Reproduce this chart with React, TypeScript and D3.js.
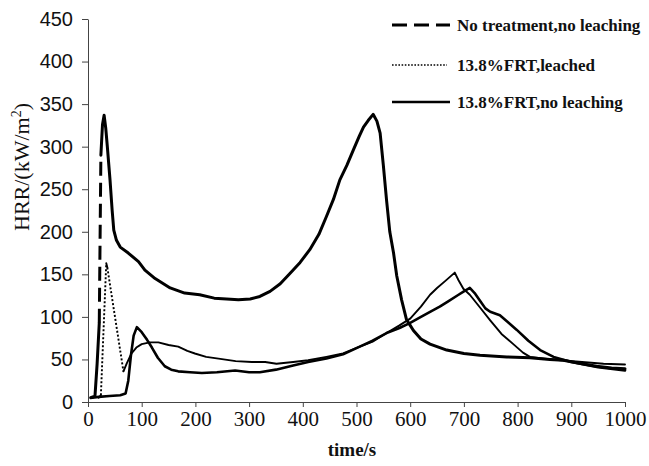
import * as d3 from "d3";
import { useEffect, useRef } from "react";

// time (s) / HRR (kW/m2)
const noTreatment = [
  [5, 5], [13, 7], [17, 45], [21, 93], [24, 290], [27, 326], [30, 337], [33, 322],
  [36, 300], [41, 261], [45, 225], [48, 202], [53, 190], [60, 182], [75, 175],
  [94, 165], [106, 155], [125, 145], [153, 134], [180, 128], [208, 126], [235, 122],
  [258, 121], [280, 120], [302, 121], [320, 124], [339, 130], [358, 139], [376, 151],
  [395, 164], [413, 179], [430, 197], [444, 218], [457, 238], [469, 261], [482, 278],
  [494, 296], [505, 312], [513, 323], [522, 331], [531, 338], [538, 330], [544, 316],
  [550, 278], [556, 237], [562, 200], [569, 175], [575, 148], [584, 120], [593, 97],
  [600, 90], [606, 84], [620, 74], [637, 68], [650, 65], [668, 61], [700, 57],
  [730, 55], [780, 53], [823, 52], [860, 50], [885, 49], [920, 45], [947, 42],
  [975, 40], [1000, 39],
];

const frtLeached = [
  [20, 5], [24, 8], [34, 163], [36, 158], [66, 36], [72, 45], [81, 57], [90, 64],
  [100, 68], [115, 70], [131, 70], [150, 67], [168, 65], [185, 60], [199, 57],
  [220, 53], [243, 51], [275, 48], [305, 47], [330, 47], [351, 45], [382, 47],
  [410, 49], [444, 53], [475, 57], [506, 65], [530, 71], [556, 81], [580, 90],
  [600, 98], [620, 112], [637, 126], [650, 134], [665, 142], [683, 152], [690, 143],
  [699, 133], [711, 126], [730, 111], [749, 96], [770, 80], [792, 68], [810, 58],
  [823, 53], [850, 51], [880, 49], [920, 47], [960, 45], [1000, 44],
];

const frtNoLeaching = [
  [8, 5], [20, 6], [40, 7], [60, 8], [70, 10], [75, 25], [80, 55], [85, 78], [91, 88],
  [100, 82], [110, 73], [119, 64], [130, 52], [143, 42], [155, 38], [168, 36],
  [190, 35], [212, 34], [240, 35], [274, 37], [300, 35], [320, 35], [350, 38],
  [382, 43], [410, 47], [444, 51], [475, 56], [506, 65], [530, 72], [556, 81],
  [580, 87], [600, 93], [620, 100], [637, 106], [655, 112], [670, 118], [690, 126],
  [700, 130], [711, 134], [720, 128], [730, 119], [740, 110], [749, 106], [767, 102],
  [780, 95], [798, 85], [820, 72], [842, 61], [867, 53], [900, 47], [950, 41],
  [1000, 37],
];

const timeTicks = [0, 100, 200, 300, 400, 500, 600, 700, 800, 900, 1000];
const hrrTicks = [0, 50, 100, 150, 200, 250, 300, 350, 400, 450];
const legendLabels = ["No treatment,no leaching", "13.8%FRT,leached", "13.8%FRT,no leaching"];

const JUMP = 60; // long segments (fast jumps) show the dash pattern, like the Excel original

const App = () => {
  const ref = useRef<SVGSVGElement>(null);

  useEffect(() => {
    const svg = d3.select(ref.current);
    svg.selectAll("*").remove();

    const x = d3.scaleLinear().domain([0, 1000]).range([88, 625]);
    const y = d3.scaleLinear().domain([0, 450]).range([402, 19]);

    const yAxis = d3.axisLeft(y).tickValues(hrrTicks).tickFormat(d3.format("d"))
      .tickSize(6).tickSizeOuter(0).tickPadding(9);
    const xAxis = d3.axisBottom(x).tickValues(timeTicks).tickFormat(d3.format("d"))
      .tickSize(5).tickSizeOuter(0).tickPadding(4);

    const gy = svg.append("g").attr("transform", "translate(88,0)").call(yAxis);
    gy.selectAll("text")
      .attr("font-family", "'Liberation Sans', Arial, sans-serif")
      .attr("font-size", 20)
      .attr("fill", "#111");

    const gx = svg.append("g").attr("transform", "translate(0,402)").call(xAxis);
    gx.selectAll("text")
      .attr("font-family", "'Liberation Serif', 'Times New Roman', serif")
      .attr("font-size", 21)
      .attr("fill", "#111");

    svg.selectAll(".domain, .tick line").attr("stroke", "#444").attr("stroke-width", 1);

    const line = d3.line<number[]>().x(d => x(d[0])).y(d => y(d[1]));
    const plot = svg.append("g").attr("fill", "none").attr("stroke", "#000");

    const drawSeries = (pts: number[][], width: number, dash: string | null) => {
      const path = (run: number[][], pattern: string | null) => {
        const p = plot.append("path")
          .attr("d", line(run))
          .attr("stroke-width", width)
          .attr("stroke-linejoin", "round");
        if (pattern) p.attr("stroke-dasharray", pattern);
        else p.attr("stroke-linecap", "round");
      };
      let run = [pts[0]];
      for (let i = 1; i < pts.length; i++) {
        const a = pts[i - 1], b = pts[i];
        const len = Math.hypot(x(b[0]) - x(a[0]), y(b[1]) - y(a[1]));
        if (dash && len > JUMP) {
          if (run.length > 1) path(run, null);
          path([a, b], dash);
          run = [b];
        } else run.push(b);
      }
      if (run.length > 1) path(run, null);
    };

    drawSeries(frtLeached, 1.9, "2,2");
    drawSeries(frtNoLeaching, 2.6, null);
    drawSeries(noTreatment, 3, "14,7");

    // legend
    const styles = [
      { w: 2.8, dash: "15,7", x2: 450 },
      { w: 1.6, dash: "1.6,1.6", x2: 447 },
      { w: 2.6, dash: null, x2: 450 },
    ];
    const rowY = [25, 65, 102];
    legendLabels.forEach((label, i) => {
      const l = svg.append("line")
        .attr("x1", 392).attr("x2", styles[i].x2)
        .attr("y1", rowY[i]).attr("y2", rowY[i])
        .attr("stroke", "#000").attr("stroke-width", styles[i].w);
      if (styles[i].dash) l.attr("stroke-dasharray", styles[i].dash);
      svg.append("text")
        .attr("x", 457).attr("y", rowY[i] + 6)
        .attr("font-family", "'Liberation Serif', 'Times New Roman', serif")
        .attr("font-weight", "bold")
        .attr("font-size", 17)
        .attr("fill", "#111")
        .text(label);
    });

    // axis titles
    const yt = svg.append("text")
      .attr("transform", "translate(29,167) rotate(-90)")
      .attr("text-anchor", "middle")
      .attr("font-family", "'Liberation Serif', 'Times New Roman', serif")
      .attr("font-size", 22)
      .attr("fill", "#111");
    yt.append("tspan").text("HRR/(kW/m");
    yt.append("tspan").attr("dy", -8).attr("font-size", 14).text("2");
    yt.append("tspan").attr("dy", 8).text(")");

    svg.append("text")
      .attr("x", 352).attr("y", 456)
      .attr("text-anchor", "middle")
      .attr("font-family", "'Liberation Serif', 'Times New Roman', serif")
      .attr("font-weight", "bold")
      .attr("font-size", 19)
      .attr("fill", "#111")
      .text("time/s");
  }, []);

  return (
    <div style={{ position: "absolute", left: 0, top: 0 }}>
      <svg ref={ref} width={649} height={466} style={{ display: "block", background: "#fff" }} />
    </div>
  );
};

export default App;
